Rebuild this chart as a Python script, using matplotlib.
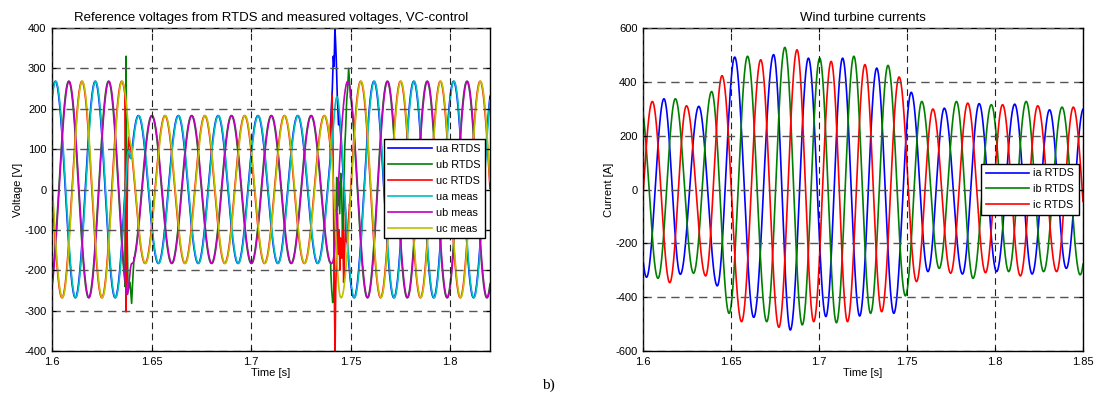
import numpy as np
import matplotlib
matplotlib.use("Agg")
import matplotlib.pyplot as plt

plt.rcParams['font.family'] = ['Liberation Sans', 'DejaVu Sans']
plt.rcParams['axes.unicode_minus'] = False

# ---------------- data: voltage plot (left) ----------------
F_HZ = 50.0
UA_PEAK_TIME = 1.6017            # time of a ua peak before the fault [s]
PHASE_ORDER = [0, 1, 2]          # ua, ub, uc lag by k*120 deg
V_AMP = [268.0, 183.0, 268.0]    # amplitude before / during / after the sag [V]
V_DELAY = [0.0, 0.0017, 0.0]     # phase delay of each segment [s]
V_SWITCH = [(1.6375, 0.0025), (1.7400, 0.0045)]   # (start, duration) of transitions
MEAS_LAG = 0.0002                # measured lags reference slightly [s]

# transient samples of the RTDS reference voltages
UA_T2_T = [1.7398, 1.7408, 1.7413, 1.7417, 1.7421, 1.7424, 1.7428, 1.7433, 1.7440]
UA_T2_V = [150, 250, 330, 305, 400, 370, 320, 230, 160]

UB_T1_T = [1.6366, 1.6372, 1.6376, 1.6382, 1.6392, 1.6400, 1.6406, 1.6412]
UB_T1_V = [-240, 330, -60, -250, -230, -282, -220, -170]
UB_T2_T = [1.7400, 1.7405, 1.7410, 1.7415, 1.7418, 1.7422, 1.7426, 1.7430, 1.7435,
           1.7440, 1.7445, 1.7450, 1.7455, 1.7460, 1.7465, 1.7470, 1.7475, 1.7480,
           1.7485, 1.7490, 1.7495, 1.7500]
UB_T2_V = [-200, -250, -280, -265, -150, -50, -80, 30, -40, 20, -60, 40, 0, -150,
           -50, 100, 150, 220, 250, 300, 260, 225]

UC_T1_T = [1.6366, 1.6372, 1.6376, 1.6380, 1.6386, 1.6392, 1.6400]
UC_T1_V = [231, -303, -100, 60, 130, 110, 90]
UC_T2_T = [1.7398, 1.7403, 1.7407, 1.7411, 1.7415, 1.7419, 1.7422, 1.7425, 1.7430,
           1.7434, 1.7438, 1.7442, 1.7446, 1.7450, 1.7455, 1.7460, 1.7465, 1.7470,
           1.7475, 1.7480, 1.7487, 1.7495]
UC_T2_V = [110, 180, 234, 120, -100, -300, -400, -250, -150, -60, -160, -100, -200,
           -120, -170, -100, -230, -150, -60, -130, -90, -35]

V_LABELS_REF = ['ua RTDS', 'ub RTDS', 'uc RTDS']
V_LABELS_MEAS = ['ua meas', 'ub meas', 'uc meas']
V_XTICKS = [1.6, 1.65, 1.7, 1.75, 1.8]
V_XTICKLABELS = ['1.6', '1.65', '1.7', '1.75', '1.8']
V_YTICKS = [-400, -300, -200, -100, 0, 100, 200, 300, 400]

# ---------------- data: current plot (right) ----------------
IA_EXT_T = [1.5922, 1.6020, 1.6119, 1.6212, 1.6317, 1.6422, 1.6521, 1.6629, 1.6742,
            1.6837, 1.6940, 1.7039, 1.7134, 1.7231, 1.7328, 1.7425, 1.7524, 1.7619,
            1.7712, 1.7815, 1.7910, 1.8009, 1.8112, 1.8211, 1.8310, 1.8405, 1.8503]
IA_EXT_V = [330, -326, 337, -315, 309, -358, 492, -475, 501, -522, 488, -472, 488,
            -470, 451, -460, 361, -305, 302, -314, 319, -305, 317, -314, 296, -293, 300]

IB_EXT_T = [1.5985, 1.6085, 1.6184, 1.6287, 1.6390, 1.6489, 1.6594, 1.6703, 1.6806,
            1.6905, 1.7004, 1.7099, 1.7198, 1.7293, 1.7392, 1.7491, 1.7584, 1.7683,
            1.7781, 1.7875, 1.7979, 1.8078, 1.8177, 1.8276, 1.8381, 1.8484, 1.8582]
IB_EXT_V = [320, -330, 337, -311, 364, -460, 495, -491, 528, -503, 488, -495, 495,
            -460, 461, -395, 327, -293, 327, -330, 315, -305, 327, -305, 306, -317, 300]

IC_EXT_T = [1.5953, 1.6053, 1.6152, 1.6247, 1.6356, 1.6449, 1.6560, 1.6669, 1.6772,
            1.6875, 1.6970, 1.7069, 1.7162, 1.7261, 1.7356, 1.7455, 1.7554, 1.7647,
            1.7748, 1.7845, 1.7946, 1.8043, 1.8144, 1.8243, 1.8350, 1.8445, 1.8545]
IC_EXT_V = [-310, 327, -346, 311, -321, 423, -491, 482, -512, 519, -491, 476, -491,
            464, -454, 418, -342, 299, -311, 321, -309, 315, -321, 311, -305, 306, -300]

I_LABELS = ['ia RTDS', 'ib RTDS', 'ic RTDS']
I_XTICKS = [1.6, 1.65, 1.7, 1.75, 1.8, 1.85]
I_XTICKLABELS = ['1.6', '1.65', '1.7', '1.75', '1.8', '1.85']
I_YTICKS = [-600, -400, -200, 0, 200, 400, 600]

# ---------------- helpers ----------------
def smoothstep(x):
    x = np.clip(x, 0, 1)
    return x * x * (3 - 2 * x)


def seg_wave(t, seg, k):
    return V_AMP[seg] * np.cos(2 * np.pi * F_HZ * (t - UA_PEAK_TIME - V_DELAY[seg] - k / (3 * F_HZ)))


def meas_voltage(t, k):
    w1 = smoothstep((t - V_SWITCH[0][0]) / V_SWITCH[0][1])
    w2 = smoothstep((t - V_SWITCH[1][0]) / V_SWITCH[1][1])
    return (seg_wave(t, 0, k) * (1 - w1) + seg_wave(t, 1, k) * w1 * (1 - w2)
            + seg_wave(t, 2, k) * w2)


def splice(t, y, windows):
    tt, yy = np.asarray(t), np.asarray(y)
    for wt, wv in windows:
        keep = (tt < wt[0]) | (tt > wt[-1])
        tt = np.concatenate([tt[keep], wt])
        yy = np.concatenate([yy[keep], wv])
        order = np.argsort(tt, kind='stable')
        tt, yy = tt[order], yy[order]
    return tt, yy


def wave_from_extrema(t, te, ve):
    te = np.asarray(te, float)
    ve = np.asarray(ve, float)
    idx = np.clip(np.searchsorted(te, t) - 1, 0, len(te) - 2)
    t0, t1 = te[idx], te[idx + 1]
    v0, v1 = ve[idx], ve[idx + 1]
    frac = np.clip((t - t0) / (t1 - t0), 0, 1)
    return (v0 + v1) / 2 + (v0 - v1) / 2 * np.cos(np.pi * frac)

# ---------------- figure ----------------
W, H = 1094, 401
fig = plt.figure(figsize=(W / 100, H / 100), dpi=100)
ax1 = fig.add_axes([52 / W, 50 / H, 438 / W, 323 / H])
ax2 = fig.add_axes([643 / W, 50 / H, 440 / W, 323 / H])

ref_colors = ['#0000ff', '#008000', '#ff0000']
meas_colors = ['#00bfbf', '#bf00bf', '#bfbf00']
LW = 1.2

t = np.linspace(1.6, 1.82, 5000)
ref_windows = [
    [(np.array(UA_T2_T), np.array(UA_T2_V, float))],
    [(np.array(UB_T1_T), np.array(UB_T1_V, float)), (np.array(UB_T2_T), np.array(UB_T2_V, float))],
    [(np.array(UC_T1_T), np.array(UC_T1_V, float)), (np.array(UC_T2_T), np.array(UC_T2_V, float))],
]
for k in PHASE_ORDER:
    tt, yy = splice(t, meas_voltage(t, k), ref_windows[k])
    ax1.plot(tt, yy, color=ref_colors[k], lw=LW, label=V_LABELS_REF[k])
for k in PHASE_ORDER:
    ax1.plot(t, meas_voltage(t - MEAS_LAG, k), color=meas_colors[k], lw=LW, label=V_LABELS_MEAS[k])

ti = np.linspace(1.6, 1.85, 5000)
for te, ve, c, lab in zip([IA_EXT_T, IB_EXT_T, IC_EXT_T], [IA_EXT_V, IB_EXT_V, IC_EXT_V],
                          ref_colors, I_LABELS):
    ax2.plot(ti, wave_from_extrema(ti, te, ve), color=c, lw=LW, label=lab)


def style(ax, xlim, ylim, xt, xtl, yt, title, ylabel):
    ax.set_xlim(*xlim)
    ax.set_ylim(*ylim)
    ax.set_xticks(xt)
    ax.set_xticklabels(xtl)
    ax.set_yticks(yt)
    ax.set_yticklabels([str(v) for v in yt])
    ax.tick_params(direction='in', length=3, width=0.8, labelsize=8, top=True,
                   right=True, colors='black')
    ax.tick_params(axis='x', pad=4)
    ax.tick_params(axis='y', pad=4)
    for s in ax.spines.values():
        s.set_linewidth(1.0)
        s.set_color('black')
    ax.xaxis.grid(True, color='#222222', lw=0.8, ls=(0, (6, 4)))
    ax.yaxis.grid(True, color='#555555', lw=1.0, ls=(0, (6, 4)))
    ax.set_axisbelow(False)
    ax.set_title(title, fontsize=9.5, pad=5)
    ax.set_xlabel('Time [s]', fontsize=8, labelpad=1)
    ax.set_ylabel(ylabel, fontsize=8, labelpad=1)


style(ax1, (1.6, 1.82), (-400, 400), V_XTICKS, V_XTICKLABELS, V_YTICKS,
      'Reference voltages from RTDS and measured voltages, VC-control', 'Voltage [V]')
style(ax2, (1.6, 1.85), (-600, 600), I_XTICKS, I_XTICKLABELS, I_YTICKS,
      'Wind turbine currents', 'Current [A]')

for ax, anchor in [(ax1, (0.988, 0.655)), (ax2, (0.99, 0.579))]:
    leg = ax.legend(loc='upper right', bbox_to_anchor=anchor, fontsize=7.8,
                    handlelength=4.0, fancybox=False, framealpha=1, edgecolor='black',
                    borderpad=0.4, labelspacing=0.55, handletextpad=0.4, borderaxespad=0)
    leg.get_frame().set_linewidth(1.0)

fig.text(548 / W, 1 - 385 / H, 'b)', family=['Liberation Serif', 'DejaVu Serif'],
         fontsize=11, ha='center', va='center')

fig.savefig('out.png', dpi=100)
